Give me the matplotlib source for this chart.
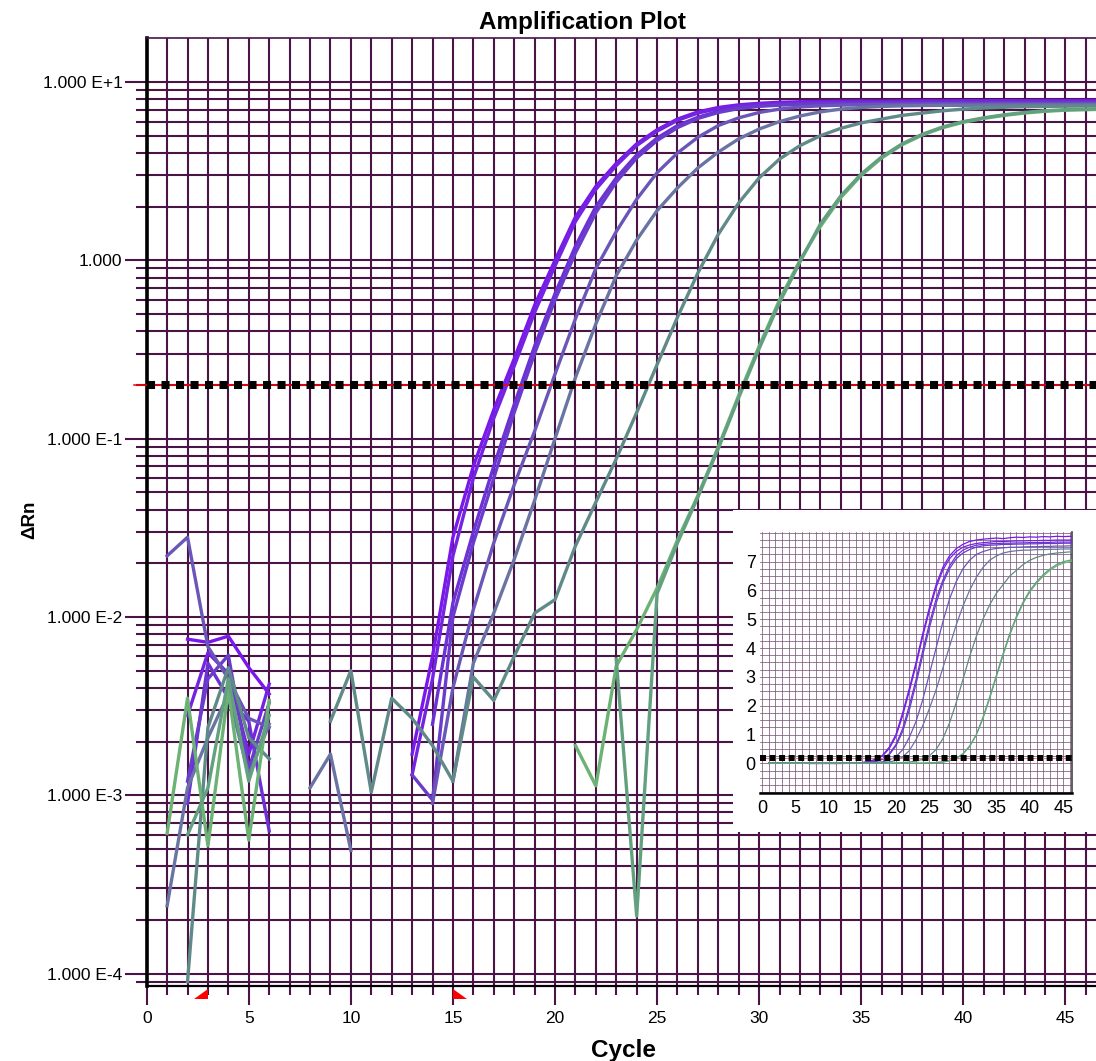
import numpy as np
import matplotlib
matplotlib.use("Agg")
import matplotlib.pyplot as plt
from matplotlib.ticker import FixedLocator, FixedFormatter, MultipleLocator, LogLocator, NullFormatter
from matplotlib.patches import Polygon

plt.rcParams['font.family'] = ['Liberation Sans', 'DejaVu Sans']

# ---------------- data ----------------
cycles = list(range(1, 48))

well_a1 = [-0.004, 0.0075, 0.0072, 0.0078, 0.0052, 0.0037, -0.002, -0.003, -0.002, -0.004,
           -0.003, -0.001, 0.0017, 0.006, 0.028, 0.07, 0.145, 0.28, 0.56, 1.0,
           1.75, 2.6, 3.5, 4.5, 5.4, 6.2, 6.8, 7.2, 7.45, 7.6,
           7.7, 7.75, 7.78, 7.8, 7.82, 7.8, 7.83, 7.85, 7.84, 7.86,
           7.85, 7.87, 7.86, 7.88, 7.87, 7.88, 7.88]
well_a2 = [-0.002, 0.0028, 0.0063, 0.0048, 0.0017, 0.0042, -0.003, -0.002, -0.004, -0.001,
           -0.002, -0.003, 0.0013, 0.0045, 0.022, 0.06, 0.13, 0.255, 0.51, 0.93,
           1.65, 2.5, 3.4, 4.4, 5.3, 6.1, 6.7, 7.1, 7.35, 7.5,
           7.58, 7.63, 7.66, 7.68, 7.7, 7.7, 7.71, 7.72, 7.72, 7.73,
           7.73, 7.74, 7.74, 7.75, 7.75, 7.75, 7.76]
well_b1 = [-0.003, 0.0009, 0.0055, 0.0035, 0.0026, 0.00063, -0.002, -0.003, -0.001, -0.002,
           -0.004, -0.002, -0.001, 0.0025, 0.012, 0.03, 0.07, 0.155, 0.33, 0.65,
           1.2, 2.0, 2.9, 3.9, 4.85, 5.7, 6.35, 6.85, 7.2, 7.4,
           7.5, 7.57, 7.6, 7.62, 7.63, 7.64, 7.64, 7.65, 7.65, 7.66,
           7.66, 7.67, 7.67, 7.68, 7.68, 7.68, 7.69]
well_b2 = [-0.001, 0.0012, 0.0045, 0.0061, 0.0014, 0.0033, -0.002, -0.001, -0.003, -0.002,
           -0.001, -0.002, 0.0013, 0.00094, 0.01, 0.026, 0.06, 0.14, 0.3, 0.6,
           1.1, 1.85, 2.75, 3.75, 4.7, 5.55, 6.25, 6.75, 7.1, 7.3,
           7.42, 7.5, 7.55, 7.57, 7.58, 7.6, 7.6, 7.61, 7.61, 7.62,
           7.62, 7.63, 7.63, 7.63, 7.64, 7.64, 7.64]
well_c = [0.022, 0.028, 0.0068, 0.0045, 0.0027, 0.0024, -0.002, -0.003, -0.002, -0.001,
          -0.003, -0.002, -0.001, 0.0009, 0.004, 0.011, 0.026, 0.055, 0.11, 0.23,
          0.47, 0.9, 1.45, 2.2, 3.1, 4.0, 4.9, 5.7, 6.3, 6.75,
          7.05, 7.25, 7.35, 7.42, 7.46, 7.48, 7.5, 7.5, 7.51, 7.52,
          7.52, 7.53, 7.53, 7.54, 7.54, 7.55, 7.55]
well_d = [0.00024, 0.0011, 0.0021, 0.0037, 0.0013, 0.0025, -0.002, 0.0011, 0.0017, 0.00049,
          -0.001, -0.002, -0.001, -0.0005, 0.0012, 0.0055, 0.0105, 0.021, 0.045, 0.10,
          0.22, 0.44, 0.82, 1.3, 1.9, 2.55, 3.3, 4.05, 4.8, 5.45,
          6.0, 6.45, 6.8, 7.05, 7.2, 7.3, 7.35, 7.38, 7.4, 7.4,
          7.42, 7.42, 7.43, 7.43, 7.44, 7.44, 7.45]
well_e = [-0.003, 0.00009, 0.0024, 0.0052, 0.0021, 0.0016, -0.002, -0.001, 0.0026, 0.005,
          0.00104, 0.0035, 0.0027, 0.0019, 0.0012, 0.0046, 0.0034, 0.006, 0.0105, 0.0125,
          0.025, 0.044, 0.077, 0.14, 0.26, 0.48, 0.85, 1.4, 2.1, 2.9,
          3.7, 4.4, 5.0, 5.5, 5.9, 6.2, 6.5, 6.7, 6.9, 7.05,
          7.15, 7.22, 7.27, 7.3, 7.32, 7.34, 7.35]
well_f1 = [0.00061, 0.0035, 0.00052, 0.0039, 0.00056, 0.0034, -0.002, -0.003, -0.001, -0.002,
           -0.004, -0.002, -0.003, -0.001, -0.002, -0.003, -0.002, -0.001, -0.002, -0.001,
           0.0019, 0.00113, 0.0053, 0.0085, 0.0145, 0.027, 0.048, 0.09, 0.175, 0.33,
           0.6, 1.0, 1.55, 2.25, 3.0, 3.75, 4.45, 5.05, 5.55, 5.95,
           6.25, 6.5, 6.7, 6.85, 6.95, 7.0, 7.05]
well_f2 = [-0.001, 0.0006, 0.0011, 0.0045, 0.0012, 0.0028, -0.003, -0.002, -0.001, -0.003,
           -0.002, -0.001, -0.002, -0.003, -0.001, -0.002, -0.003, -0.002, -0.001, -0.002,
           -0.001, -0.002, 0.0058, 0.00021, 0.0135, 0.026, 0.047, 0.088, 0.17, 0.32,
           0.58, 0.98, 1.6, 2.3, 3.05, 3.8, 4.5, 5.1, 5.6, 6.0,
           6.3, 6.55, 6.75, 6.9, 7.0, 7.05, 7.1]

wells = [well_a1, well_a2, well_b1, well_b2, well_c, well_d, well_e, well_f1, well_f2]
well_colors = ['#7a18ec', '#7424e0', '#6c30d4', '#6a3ccc', '#6a56b8', '#6a74a4',
               '#5f8a88', '#6cb274', '#62a080']

threshold = 0.2
baseline_start = 3
baseline_end = 15

main_xticks = [0, 5, 10, 15, 20, 25, 30, 35, 40, 45]
main_yticks = [1e-4, 1e-3, 1e-2, 1e-1, 1.0, 10.0]
main_ytick_labels = ['1.000 E-4', '1.000 E-3', '1.000 E-2', '1.000 E-1', '1.000', '1.000 E+1']
inset_xticks = [0, 5, 10, 15, 20, 25, 30, 35, 40, 45]
inset_yticks = [0, 1, 2, 3, 4, 5, 6, 7]

# ---------------- figure ----------------
W, H = 1096, 1061
fig = plt.figure(figsize=(W / 100, H / 100), dpi=100)
fig.patch.set_facecolor('white')

grid_color = '#4a1446'

ax = fig.add_axes([146.7 / W, 1 - 986 / H, 1 - 146.7 / W, (986 - 38) / H])
ax.set_yscale('log', nonpositive='mask')
ax.set_xlim(0, 46.5)
ax.set_ylim(8.51e-5, 17.66)

ax.xaxis.set_major_locator(FixedLocator(main_xticks))
ax.xaxis.set_minor_locator(MultipleLocator(1))
ax.yaxis.set_major_locator(FixedLocator(main_yticks))
ax.yaxis.set_major_formatter(FixedFormatter(main_ytick_labels))
ax.yaxis.set_minor_locator(LogLocator(base=10, subs=np.arange(2, 10), numticks=60))
ax.yaxis.set_minor_formatter(NullFormatter())

ax.grid(which='both', axis='both', color=grid_color, lw=1.5)
ax.tick_params(axis='y', which='major', length=16, width=1.5, color=grid_color,
               pad=1.5, labelsize=12.5)
ax.tick_params(axis='y', which='minor', length=8, width=1.5, color=grid_color)
ax.tick_params(axis='x', which='major', length=13.7, width=1.5, color=grid_color,
               pad=4, labelsize=12.5)
ax.tick_params(axis='x', which='minor', length=6.5, width=1.5, color=grid_color)

ax.spines['left'].set_color('black')
ax.spines['left'].set_linewidth(2.6)
ax.spines['bottom'].set_color('black')
ax.spines['bottom'].set_linewidth(1.6)
ax.spines['top'].set_color(grid_color)
ax.spines['top'].set_linewidth(1.2)
ax.spines['right'].set_visible(False)

for vals, col in zip(wells, well_colors):
    ax.plot(cycles, vals, color=col, lw=2.4, zorder=3)

# threshold line
ax.axhline(threshold, xmin=-0.013, xmax=1.0, color='red', lw=1.1, clip_on=False, zorder=4)
thr = ax.axhline(threshold, color='black', lw=5.8, zorder=5, dash_capstyle='butt')
thr.set_dashes([1.0, 0.8])

# baseline markers
xt = ax.get_xaxis_transform()
tri1 = Polygon([(baseline_start - 0.69, -0.0137), (baseline_start, -0.0137),
                (baseline_start, -0.0032)], closed=True, transform=xt,
               facecolor='red', edgecolor='none', clip_on=False, zorder=6)
tri2 = Polygon([(baseline_end, -0.0032), (baseline_end, -0.0137),
                (baseline_end + 0.69, -0.0137)], closed=True, transform=xt,
               facecolor='red', edgecolor='none', clip_on=False, zorder=6)
ax.add_patch(tri1)
ax.add_patch(tri2)

fig.text(582 / W, 1 - 22 / H, 'Amplification Plot', ha='center', va='center',
         fontsize=17.5, fontweight='bold')
fig.text(623 / W, 1 - 1050 / H, 'Cycle', ha='center', va='center',
         fontsize=17.5, fontweight='bold')
fig.text(30 / W, 1 - 520 / H, 'ΔRn', ha='center', va='center', rotation=90,
         fontsize=13.5, fontweight='bold')

# ---------------- inset ----------------
box = fig.add_axes([733 / W, 1 - 832 / H, (W - 733) / W, (832 - 510) / H])
box.set_facecolor('white')
box.set_xticks([])
box.set_yticks([])
for s in box.spines.values():
    s.set_visible(False)

iax = fig.add_axes([760 / W, 1 - 793.3 / H, (1072 - 760) / W, (793.3 - 531.7) / H])
iax.set_xlim(-0.3, 46.3)
iax.set_ylim(-1.04, 8.04)
iax.xaxis.set_major_locator(FixedLocator(inset_xticks))
iax.xaxis.set_minor_locator(MultipleLocator(1))
iax.yaxis.set_major_locator(FixedLocator(inset_yticks))
iax.yaxis.set_minor_locator(MultipleLocator(0.25))
iax.grid(which='both', axis='both', color='#7a5878', lw=0.55)
iax.tick_params(which='both', length=0, labelsize=13)
iax.tick_params(axis='x', pad=5)
iax.tick_params(axis='y', pad=3)
iax.spines['bottom'].set_color('black')
iax.spines['bottom'].set_linewidth(1.8)
iax.spines['right'].set_color('#444444')
iax.spines['right'].set_linewidth(1.2)
iax.spines['left'].set_visible(False)
iax.spines['top'].set_visible(False)

for vals, col in zip(wells, well_colors):
    iax.plot(cycles, vals, color=col, lw=0.9, zorder=3)

iax.axhline(threshold, color='#e88080', lw=0.8, zorder=4)
ithr = iax.axhline(threshold, color='black', lw=4.3, zorder=5, dash_capstyle='butt')
ithr.set_dashes([1.0, 0.6])

fig.savefig('out.png', dpi=100, facecolor='white')
